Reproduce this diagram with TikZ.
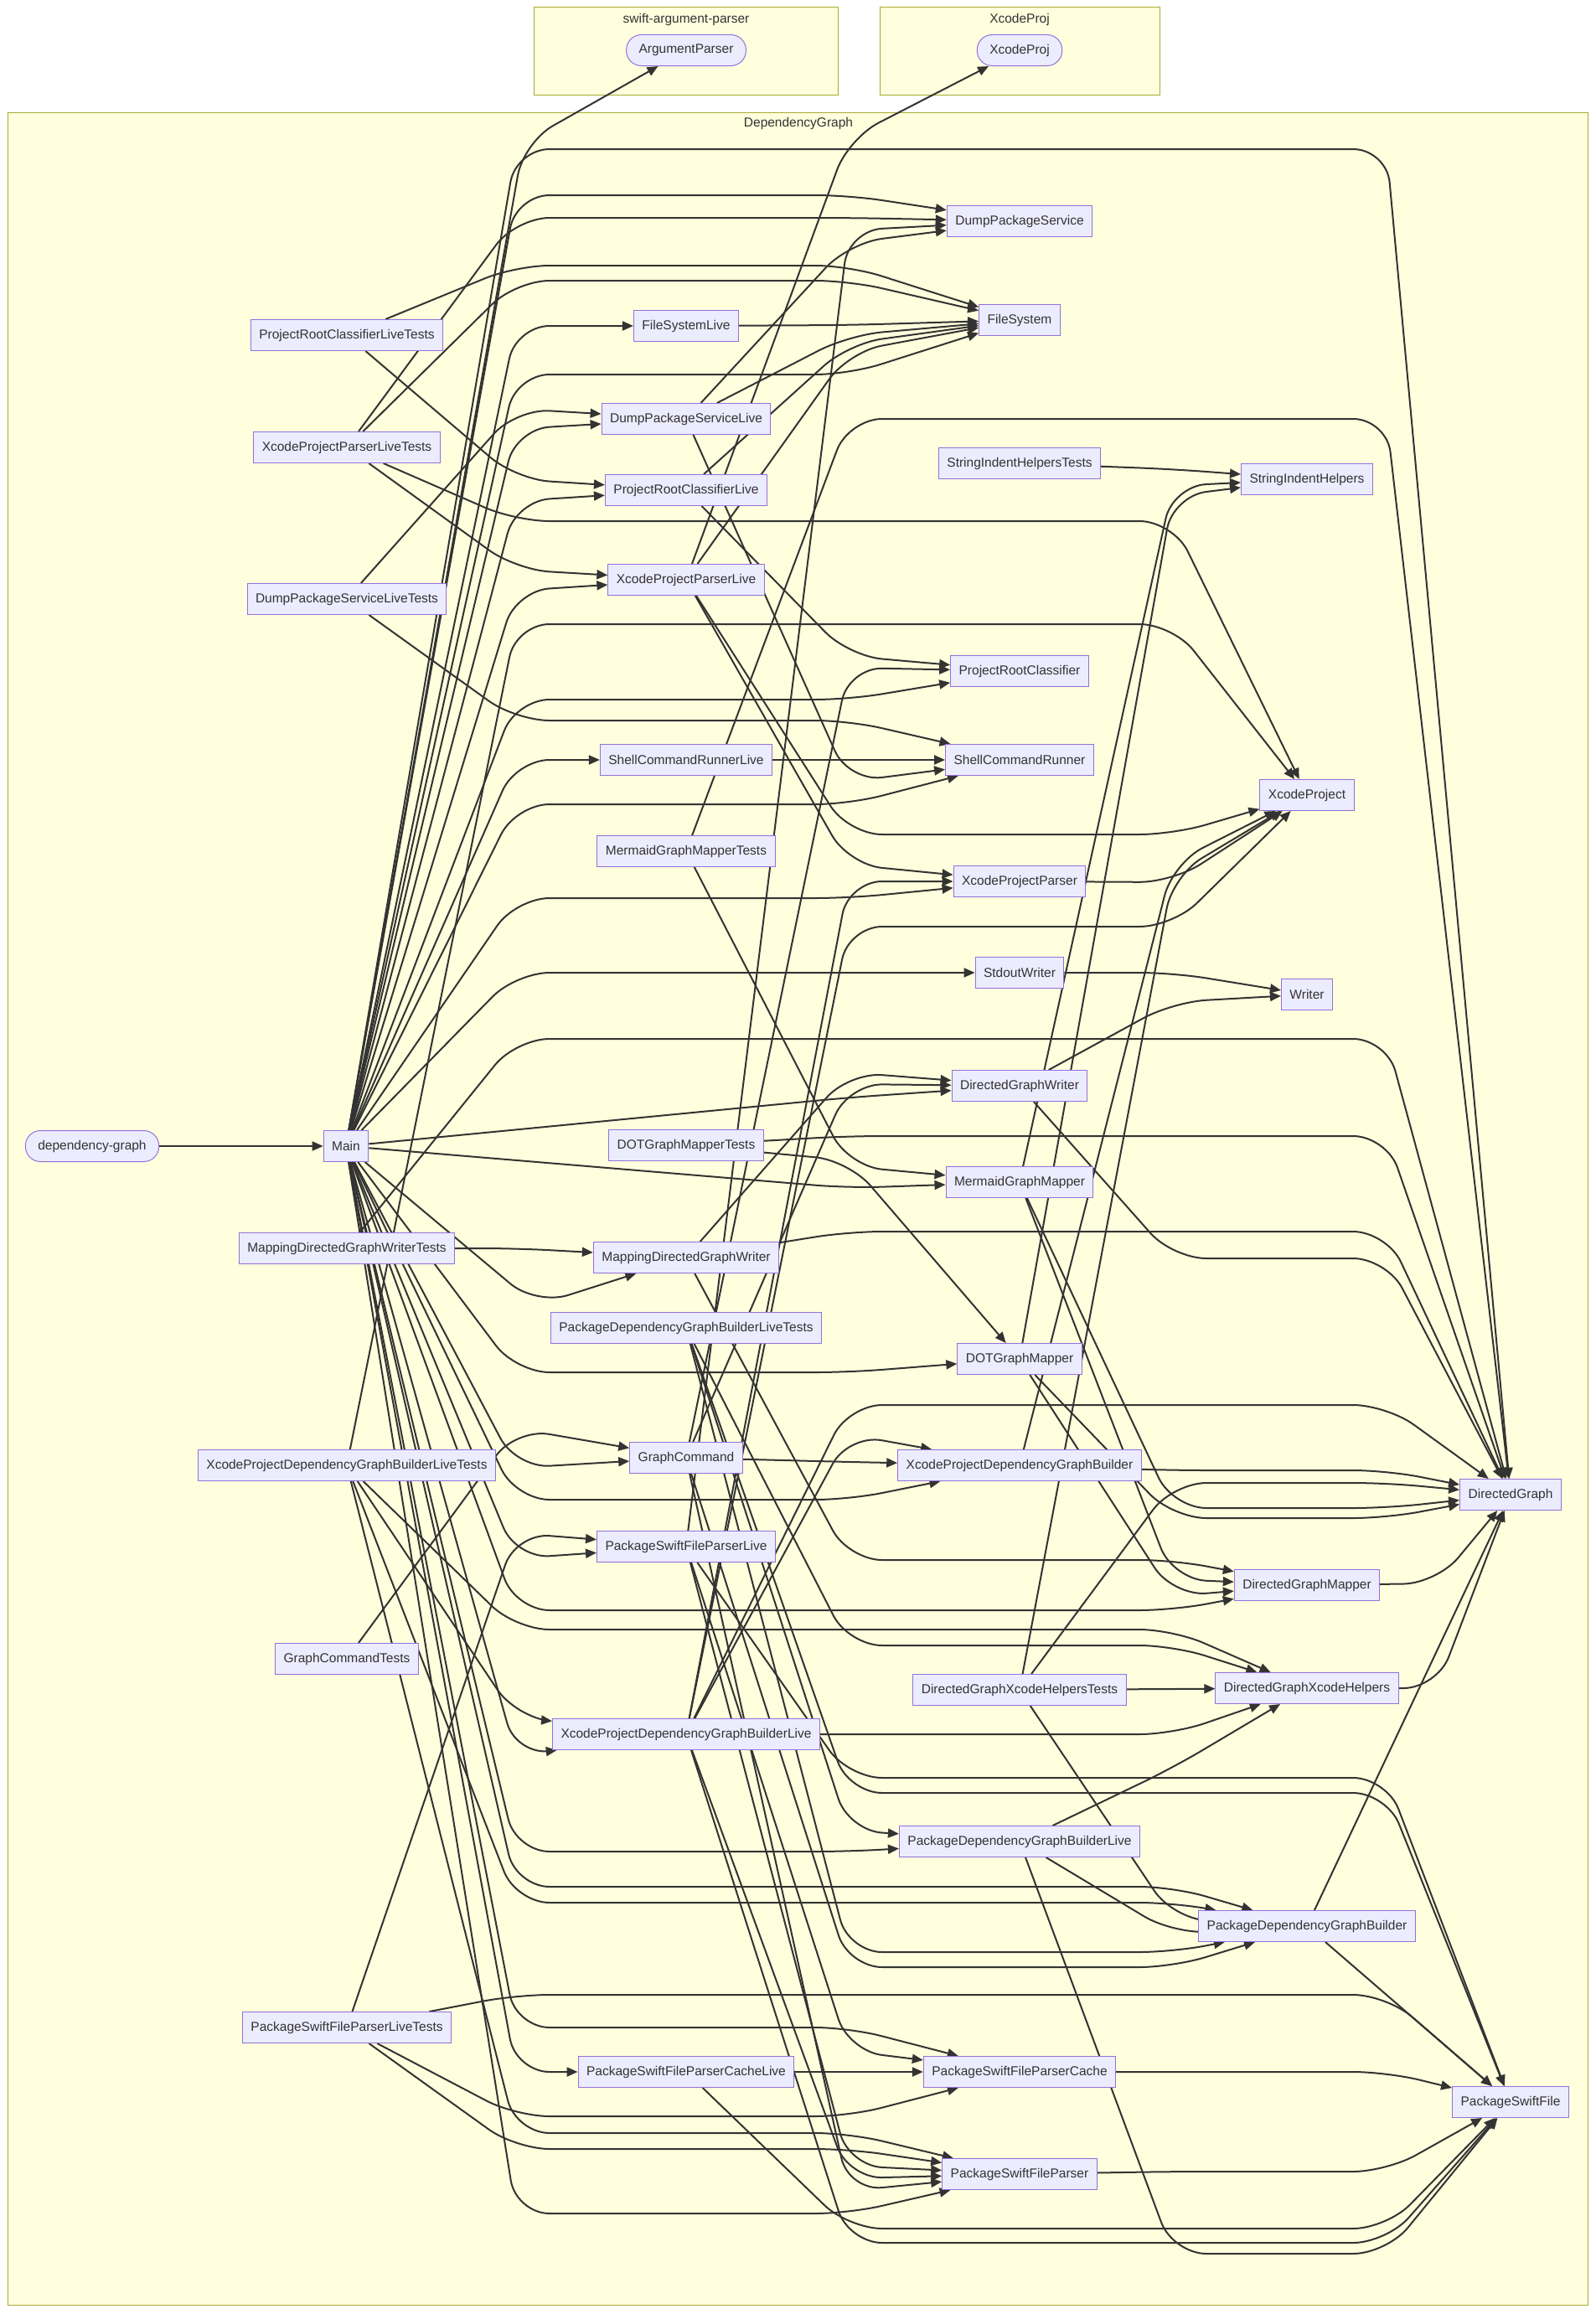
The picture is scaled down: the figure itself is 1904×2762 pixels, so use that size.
\documentclass[tikz,border=0pt]{standalone}
\usepackage{fontspec}
\setmainfont{Liberation Sans}
\usetikzlibrary{arrows.meta}
\definecolor{nodeFill}{HTML}{ECECFF}
\definecolor{nodeStroke}{HTML}{9370DB}
\definecolor{clFill}{HTML}{FFFFDE}
\definecolor{clStroke}{HTML}{AAAA33}
\definecolor{txt}{HTML}{333333}
\definecolor{lineC}{HTML}{333333}
\pgfdeclarelayer{back}
\pgfdeclarelayer{edges}
\pgfsetlayers{back,edges,main}
\newcommand\ekA[4]{\draw[lnk] (#1) -- (#2,#3) -- (#4);}
\newcommand\ekB[5]{\draw[lnk] (#1) -- (#2,#4) -- (#3,#4) -- (#5);}
\tikzset{
  nd/.style={draw=nodeStroke, fill=nodeFill, line width=1pt, minimum height=37pt,
    inner xsep=10pt, inner ysep=0pt, text=txt, font=\fontsize{15.5}{18}\selectfont},
  rnd/.style={nd, rounded corners=18pt, inner xsep=15pt},
  clus/.style={draw=clStroke, fill=clFill, line width=1pt},
  clab/.style={text=txt, font=\fontsize{15.5}{18}\selectfont},
  lnk/.style={draw=lineC, line width=2pt, rounded corners=40pt, -{Triangle[length=13pt,width=11pt]}}
}
\begin{document}
\begin{tikzpicture}[x=1pt,y=-1pt]
\useasboundingbox (0,0) rectangle (1904,2762);
\begin{pgfonlayer}{back}
\fill[white] (0,0) rectangle (1904,2762);
\draw[clus] (637,9) rectangle (1000,113);
\node[clab] (c1) at (819,23) {swift-argument-parser};
\draw[clus] (1050,9) rectangle (1384,113);
\node[clab] (c2) at (1217,23) {XcodeProj};
\draw[clus] (9,134) rectangle (1895,2751);
\node[clab] (c3) at (953,147) {DependencyGraph};
\end{pgfonlayer}

% nodes
\node[rnd] (dg0) at (110,1368) {dependency-graph};
\node[nd] (Main) at (413,1368) {Main};
\node[rnd] (AP) at (819,60) {ArgumentParser};
\node[rnd] (XPj) at (1217,60) {XcodeProj};
% column 1
\node[nd] (PRCLT) at (414,400) {ProjectRootClassifierLiveTests};
\node[nd] (XPPLT) at (414,534) {XcodeProjectParserLiveTests};
\node[nd] (DPSLT) at (414,715) {DumpPackageServiceLiveTests};
\node[nd] (MDGWT) at (414,1490) {MappingDirectedGraphWriterTests};
\node[nd] (XPDGBLT) at (414,1749) {XcodeProjectDependencyGraphBuilderLiveTests};
\node[nd] (GCT) at (414,1980) {GraphCommandTests};
\node[nd] (PSFPLT) at (414,2420) {PackageSwiftFileParserLiveTests};
% column 2
\node[nd] (FSL) at (819,389) {FileSystemLive};
\node[nd] (DPSL) at (819,500) {DumpPackageServiceLive};
\node[nd] (PRCL) at (819,585) {ProjectRootClassifierLive};
\node[nd] (XPPL) at (819,692) {XcodeProjectParserLive};
\node[nd] (SCRL) at (819,907) {ShellCommandRunnerLive};
\node[nd] (MGMT) at (819,1016) {MermaidGraphMapperTests};
\node[nd] (DOTGMT) at (819,1367) {DOTGraphMapperTests};
\node[nd] (MDGW) at (819,1501) {MappingDirectedGraphWriter};
\node[nd] (PDGBLT) at (819,1585) {PackageDependencyGraphBuilderLiveTests};
\node[nd] (GC) at (819,1740) {GraphCommand};
\node[nd] (PSFPL) at (819,1846) {PackageSwiftFileParserLive};
\node[nd] (XPDGBL) at (819,2070) {XcodeProjectDependencyGraphBuilderLive};
\node[nd] (PSFPCL) at (819,2473) {PackageSwiftFileParserCacheLive};
% column 3
\node[nd] (DPS) at (1217,264) {DumpPackageService};
\node[nd] (FS) at (1217,382) {FileSystem};
\node[nd] (SIHT) at (1217,553) {StringIndentHelpersTests};
\node[nd] (PRC) at (1217,801) {ProjectRootClassifier};
\node[nd] (SCR) at (1217,907) {ShellCommandRunner};
\node[nd] (XPP) at (1217,1052) {XcodeProjectParser};
\node[nd] (SW) at (1217,1161) {StdoutWriter};
\node[nd] (DGW) at (1217,1296) {DirectedGraphWriter};
\node[nd] (MGM) at (1217,1411) {MermaidGraphMapper};
\node[nd] (DOTGM) at (1217,1622) {DOTGraphMapper};
\node[nd] (XPDGB) at (1217,1749) {XcodeProjectDependencyGraphBuilder};
\node[nd] (DGXHT) at (1217,2017) {DirectedGraphXcodeHelpersTests};
\node[nd] (PDGBL) at (1217,2198) {PackageDependencyGraphBuilderLive};
\node[nd] (PSFPC) at (1217,2473) {PackageSwiftFileParserCache};
\node[nd] (PSFP) at (1217,2595) {PackageSwiftFileParser};
% column 4
\node[nd] (SIH) at (1560,572) {StringIndentHelpers};
\node[nd] (XP) at (1560,949) {XcodeProject};
\node[nd] (WR) at (1560,1187) {Writer};
\node[nd] (DGM) at (1560,1892) {DirectedGraphMapper};
\node[nd] (DGXH) at (1560,2015) {DirectedGraphXcodeHelpers};
\node[nd] (PDGB) at (1560,2299) {PackageDependencyGraphBuilder};
% column 5
\node[nd] (DG) at (1803,1784) {DirectedGraph};
\node[nd] (PSF) at (1803,2509) {PackageSwiftFile};

\begin{pgfonlayer}{edges}
\draw[lnk] (dg0) -- (Main);
% from Main
\ekA{Main}{625}{170}{AP}
\ekB{Main}{616}{1655}{178}{DG}
\ekB{Main}{616}{1013}{233}{DPS}
\ekA{Main}{616}{389}{FSL}
\ekB{Main}{616}{1013}{447}{FS}
\ekA{Main}{616}{512}{DPSL}
\ekA{Main}{616}{598}{PRCL}
\ekA{Main}{616}{705}{XPPL}
\ekB{Main}{616}{1013}{835}{PRC}
\ekA{Main}{616}{907}{SCRL}
\ekB{Main}{616}{1013}{960}{SCR}
\ekB{Main}{616}{1013}{1072}{XPP}
\ekB{Main}{616}{1013}{1161}{SW}
\draw[lnk] (Main) -- (1013,1310) -- (DGW);
\draw[lnk] (Main) -- (1013,1418) -- (MGM);
\ekA{Main}{640}{1558}{MDGW}
\ekB{Main}{616}{1013}{1638}{DOTGM}
\ekA{Main}{616}{1752}{GC}
\ekB{Main}{616}{1013}{1790}{XPDGB}
\ekA{Main}{616}{1860}{PSFPL}
\ekB{Main}{616}{1400}{1922}{DGM}
\ekA{Main}{616}{2095}{XPDGBL}
\ekB{Main}{616}{1013}{2210}{PDGBL}
\ekB{Main}{616}{1400}{2252}{PDGB}
\ekB{Main}{616}{1013}{2420}{PSFPC}
\ekA{Main}{616}{2473}{PSFPCL}
\ekB{Main}{616}{1013}{2642}{PSFP}
% column 1 tests
\ekB{PRCLT}{616}{1013}{317}{FS}
\ekA{PRCLT}{616}{572}{PRCL}
\ekB{XPPLT}{616}{1013}{260}{DPS}
\ekB{XPPLT}{616}{1013}{335}{FS}
\ekA{XPPLT}{616}{680}{XPPL}
\ekB{XPPLT}{616}{1400}{622}{XP}
\ekA{DPSLT}{616}{488}{DPSL}
\ekB{DPSLT}{616}{1013}{860}{SCR}
\ekA{MDGWT}{616}{1490}{MDGW}
\ekB{MDGWT}{616}{1655}{1240}{DG}
\ekA{XPDGBLT}{616}{2050}{XPDGBL}
\ekB{XPDGBLT}{616}{1400}{745}{XP}
\ekB{XPDGBLT}{616}{1400}{1945}{DGXH}
\ekB{XPDGBLT}{616}{1400}{2271}{PDGB}
\ekB{XPDGBLT}{616}{1013}{2546}{PSFP}
\ekA{GCT}{616}{1705}{GC}
\ekA{PSFPLT}{616}{1830}{PSFPL}
\ekB{PSFPLT}{616}{1655}{2381}{PSF}
\ekB{PSFPLT}{616}{1013}{2526}{PSFPC}
\ekB{PSFPLT}{616}{1013}{2565}{PSFP}
% column 2
\ekA{FSL}{1013}{388}{FS}
\ekA{DPSL}{1013}{290}{DPS}
\ekA{DPSL}{1013}{400}{FS}
\ekA{DPSL}{1013}{933}{SCR}
\ekA{PRCL}{1013}{410}{FS}
\ekA{PRCL}{1013}{783}{PRC}
\ekA{XPPL}{1013}{165}{XPj}
\ekA{XPPL}{1013}{420}{FS}
\ekA{XPPL}{1013}{1032}{XPP}
\ekB{XPPL}{1013}{1400}{996}{XP}
\ekA{SCRL}{1013}{907}{SCR}
\ekA{MGMT}{1013}{1392}{MGM}
\ekB{MGMT}{1013}{1655}{500}{DG}
\ekA{DOTGMT}{1013}{1385}{DOTGM}
\ekB{DOTGMT}{1013}{1655}{1356}{DG}
\ekA{MDGW}{1013}{1280}{DGW}
\ekB{MDGW}{1013}{1400}{1862}{DGM}
\ekB{MDGW}{1013}{1655}{1470}{DG}
\ekA{PDGBLT}{1013}{2185}{PDGBL}
\ekB{PDGBLT}{1013}{1400}{1964}{DGXH}
\ekB{PDGBLT}{1013}{1400}{2330}{PDGB}
\ekB{PDGBLT}{1013}{1655}{2140}{PSF}
\ekA{GC}{1013}{797}{PRC}
\ekA{GC}{1013}{1294}{DGW}
\ekA{GC}{1013}{1745}{XPDGB}
\ekB{GC}{1013}{1400}{2348}{PDGB}
\ekA{GC}{1013}{2615}{PSFP}
\ekA{PSFPL}{1013}{275}{DPS}
\ekA{PSFPL}{1013}{2448}{PSFPC}
\ekA{PSFPL}{1013}{2585}{PSFP}
\ekB{PSFPL}{1013}{1655}{2122}{PSF}
\ekA{XPDGBL}{1013}{1052}{XPP}
\ekB{XPDGBL}{1013}{1400}{1106}{XP}
\ekA{XPDGBL}{1013}{1712}{XPDGB}
\ekB{XPDGBL}{1013}{1655}{1677}{DG}
\ekB{XPDGBL}{1013}{1400}{2070}{DGXH}
\ekA{XPDGBL}{1013}{2600}{PSFP}
\ekB{XPDGBL}{1013}{1655}{2677}{PSF}
\ekA{PSFPCL}{1013}{2473}{PSFPC}
\ekB{PSFPCL}{1013}{1655}{2660}{PSF}
% column 3
\ekA{SIHT}{1400}{560}{SIH}
\ekA{XPP}{1400}{1053}{XP}
\ekA{SW}{1400}{1161}{WR}
\ekA{DGW}{1400}{1196}{WR}
\ekB{DGW}{1400}{1655}{1502}{DG}
\ekA{MGM}{1400}{580}{SIH}
\ekA{MGM}{1400}{1885}{DGM}
\ekB{MGM}{1400}{1655}{1800}{DG}
\ekA{DOTGM}{1400}{592}{SIH}
\ekA{DOTGM}{1400}{1905}{DGM}
\ekB{DOTGM}{1400}{1655}{1812}{DG}
\ekB{XPDGB}{1400}{1655}{1755}{DG}
\ekA{XPDGB}{1400}{1030}{XP}
\ekA{DGXHT}{1400}{2016}{DGXH}
\ekB{DGXHT}{1400}{1655}{1770}{DG}
\ekA{DGXHT}{1400}{1045}{XP}
\ekA{DGXHT}{1400}{2290}{PDGB}
\ekA{PDGBL}{1400}{2110}{DGXH}
\ekA{PDGBL}{1400}{2308}{PDGB}
\ekB{PDGBL}{1400}{1655}{2690}{PSF}
\ekB{PSFPC}{1400}{1655}{2473}{PSF}
\ekB{PSFP}{1400}{1655}{2592}{PSF}
% column 4
\ekA{DGM}{1715}{1890}{DG}
\ekA{DGXH}{1715}{2015}{DG}
\draw[lnk] (PDGB) -- (DG);
\draw[lnk] (PDGB) -- (PSF);
\end{pgfonlayer}
\end{tikzpicture}
\end{document}
